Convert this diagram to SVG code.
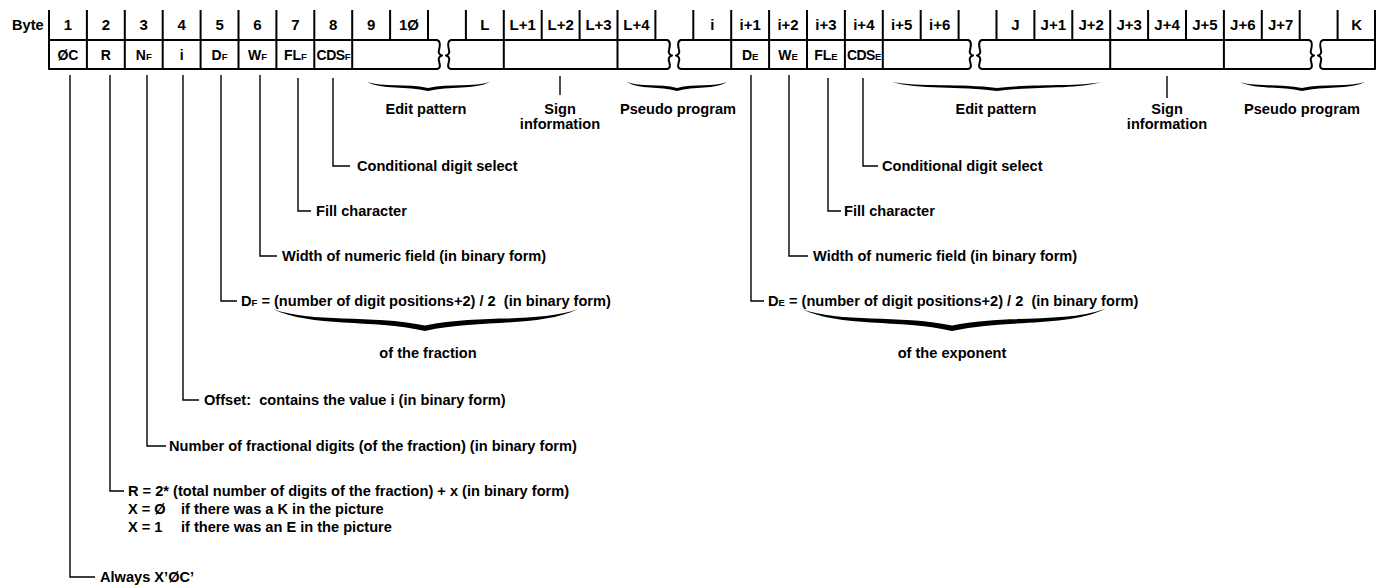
<svg xmlns="http://www.w3.org/2000/svg" width="1383" height="586" viewBox="0 0 1383 586">
  <style>
    .t { font-family: "Liberation Sans", Arial, sans-serif; font-weight: bold; font-size: 14.6px; fill: #000; }
    .h { font-size: 15px; text-anchor: middle; }
    .c { font-size: 14px; text-anchor: middle; }
    .m { text-anchor: middle; }
    .s { font-size: 9.5px; }
    .box { fill: none; stroke: #000; stroke-width: 2; stroke-linejoin: round; }
    .tick { stroke: #000; stroke-width: 2; }
    .ld { fill: none; stroke: #000; stroke-width: 1.4; }
    .brace { fill: #000; }
  </style>
  <rect width="1383" height="586" fill="#fff"/>

  <!-- byte number row -->
  <g id="byte-numbers">
    <text class="t" x="12" y="30" font-size="14">Byte</text>
    <path class="tick" d="M49,10V40M86.9,10V40M124.8,10V40M162.7,10V40M200.6,10V40M238.5,10V40M276.4,10V40M314.3,10V40M352.2,10V40M390.1,10V40M428,10V40M465.9,10V40M503.8,10V40M541.7,10V40M579.6,10V40M617.5,10V40M655.4,10V40M693.3,10V40M731.2,10V40M769.1,10V40M807,10V40M844.9,10V40M882.8,10V40M920.7,10V40M958.6,10V40M996.5,10V40M1034.4,10V40M1072.3,10V40M1110.2,10V40M1148.1,10V40M1186,10V40M1223.9,10V40M1261.8,10V40M1299.7,10V40M1337.6,10V40M1375,10V40"/>
    <text class="t h" x="67.95" y="30">1</text>
    <text class="t h" x="105.85" y="30">2</text>
    <text class="t h" x="143.75" y="30">3</text>
    <text class="t h" x="181.65" y="30">4</text>
    <text class="t h" x="219.55" y="30">5</text>
    <text class="t h" x="257.45" y="30">6</text>
    <text class="t h" x="295.35" y="30">7</text>
    <text class="t h" x="333.25" y="30">8</text>
    <text class="t h" x="371.15" y="30">9</text>
    <text class="t h" x="409.05" y="30">1Ø</text>
    <text class="t h" x="484.85" y="30">L</text>
    <text class="t h" x="522.75" y="30">L+1</text>
    <text class="t h" x="560.65" y="30">L+2</text>
    <text class="t h" x="598.55" y="30">L+3</text>
    <text class="t h" x="636.45" y="30">L+4</text>
    <text class="t h" x="712.25" y="30">i</text>
    <text class="t h" x="750.15" y="30">i+1</text>
    <text class="t h" x="788.05" y="30">i+2</text>
    <text class="t h" x="825.95" y="30">i+3</text>
    <text class="t h" x="863.85" y="30">i+4</text>
    <text class="t h" x="901.75" y="30">i+5</text>
    <text class="t h" x="939.65" y="30">i+6</text>
    <text class="t h" x="1015.45" y="30">J</text>
    <text class="t h" x="1053.35" y="30">J+1</text>
    <text class="t h" x="1091.25" y="30">J+2</text>
    <text class="t h" x="1129.15" y="30">J+3</text>
    <text class="t h" x="1167.05" y="30">J+4</text>
    <text class="t h" x="1204.95" y="30">J+5</text>
    <text class="t h" x="1242.85" y="30">J+6</text>
    <text class="t h" x="1280.75" y="30">J+7</text>
    <text class="t h" x="1356.55" y="30">K</text>
  </g>

  <!-- field row, drawn as torn pieces -->
  <g id="field-row">
    <path class="box" d="M49,40H437C441,41 440,46 439,50C438,53 440,55 442,55.5C440,56 438,58 439,61C440,65 441,68 437,69H49Z"/>
    <path class="box" d="M451,40H667C671,41 670,46 669,50C668,53 670,55 672,55.5C670,56 668,58 669,61C670,65 671,68 667,69H451C447,68 448,65 449,61C450,58 448,56 446,55.5C448,55 450,53 449,50C448,46 447,41 451,40Z"/>
    <path class="box" d="M681,40H968C972,41 971,46 970,50C969,53 971,55 973,55.5C971,56 969,58 970,61C971,65 972,68 968,69H681C677,68 678,65 679,61C680,58 678,56 676,55.5C678,55 680,53 679,50C678,46 677,41 681,40Z"/>
    <path class="box" d="M982,40H1309C1313,41 1312,46 1311,50C1310,53 1312,55 1314,55.5C1312,56 1310,58 1311,61C1312,65 1313,68 1309,69H982C978,68 979,65 980,61C981,58 979,56 977,55.5C979,55 981,53 980,50C979,46 978,41 982,40Z"/>
    <path class="box" d="M1323,40H1375V69H1323C1319,68 1320,65 1321,61C1322,58 1320,56 1318,55.5C1320,55 1322,53 1321,50C1320,46 1319,41 1323,40Z"/>
    <path class="tick" d="M86.9,40V69M124.8,40V69M162.7,40V69M200.6,40V69M238.5,40V69M276.4,40V69M314.3,40V69M352.2,40V69M503.8,40V69M617.5,40V69M731.2,40V69M769.1,40V69M807,40V69M844.9,40V69M882.8,40V69M1110.2,40V69M1223.9,40V69"/>
  </g>

  <g id="cell-0C"><text class="t c" x="67.95" y="60">ØC</text></g>
  <g id="cell-R"><text class="t c" x="105.85" y="60">R</text></g>
  <g id="cell-NF"><text class="t c" x="143.75" y="60">N<tspan class="s">F</tspan></text></g>
  <g id="cell-i"><text class="t c" x="181.65" y="60">i</text></g>
  <g id="cell-DF"><text class="t c" x="219.55" y="60">D<tspan class="s">F</tspan></text></g>
  <g id="cell-WF"><text class="t c" x="257.45" y="60">W<tspan class="s">F</tspan></text></g>
  <g id="cell-FLF"><text class="t c" x="295.35" y="60">FL<tspan class="s">F</tspan></text></g>
  <g id="cell-CDSF"><text class="t c" x="333.25" y="60" letter-spacing="-0.5">CDS<tspan class="s">F</tspan></text></g>
  <g id="cell-DE"><text class="t c" x="750.15" y="60">D<tspan class="s">E</tspan></text></g>
  <g id="cell-WE"><text class="t c" x="788.05" y="60">W<tspan class="s">E</tspan></text></g>
  <g id="cell-FLE"><text class="t c" x="825.95" y="60">FL<tspan class="s">E</tspan></text></g>
  <g id="cell-CDSE"><text class="t c" x="863.85" y="60" letter-spacing="-0.5">CDS<tspan class="s">E</tspan></text></g>

  <!-- braces and labels under the variable-length areas -->
  <g id="edit-pattern-f">
    <path class="brace" d="M367,82C382.25,89.65 406.65,86.05 428,91C449.7,86.05 474.5,89.65 490,82C474.5,87.05 449.7,83.45 428,87.9C406.65,83.45 382.25,87.05 367,82Z"/>
    <text class="t m" x="426" y="114">Edit pattern</text>
  </g>
  <g id="sign-f">
    <text class="t m" x="560" y="114">Sign</text>
    <text class="t m" x="560" y="129">information</text>
  </g>
  <g id="pseudo-program-f">
    <path class="brace" d="M627,82C639.5,89.65 659.5,86.05 677,91C694.5,86.05 714.5,89.65 727,82C714.5,87.05 694.5,83.45 677,87.9C659.5,83.45 639.5,87.05 627,82Z"/>
    <text class="t m" x="678" y="114">Pseudo program</text>
  </g>
  <g id="edit-pattern-e">
    <path class="brace" d="M892,82C918.25,89.65 960.25,86.05 997,91C1033.75,86.05 1075.75,89.65 1102,82C1075.75,87.05 1033.75,83.45 997,87.9C960.25,83.45 918.25,87.05 892,82Z"/>
    <text class="t m" x="996" y="114">Edit pattern</text>
  </g>
  <g id="sign-e">
    <text class="t m" x="1167" y="114">Sign</text>
    <text class="t m" x="1167" y="129">information</text>
  </g>
  <g id="pseudo-program-e">
    <path class="brace" d="M1240,82C1255.5,89.65 1280.3,86.05 1302,91C1324.05,86.05 1349.25,89.65 1365,82C1349.25,87.05 1324.05,83.45 1302,87.9C1280.3,83.45 1255.5,87.05 1240,82Z"/>
    <text class="t m" x="1302" y="114">Pseudo program</text>
  </g>

  <!-- descriptions of the fraction bytes -->
  <g id="desc-cds-f"><text class="t" x="357" y="171">Conditional digit select</text></g>
  <g id="desc-fill-f"><text class="t" x="316" y="216">Fill character</text></g>
  <g id="desc-width-f"><text class="t" x="282" y="261">Width of numeric field (in binary form)</text></g>
  <g id="desc-d-f">
    <text class="t" x="241" y="306" xml:space="preserve">D<tspan class="s">F</tspan> = (number of digit positions+2) / 2  (in binary form)</text>
    <path class="brace" d="M273,309C311,327.7 371.8,318.9 425,331C478.55,318.9 539.75,327.7 578,309C539.75,323.2 478.55,314.4 425,325.6C371.8,314.4 311,323.2 273,309Z"/>
    <text class="t m" x="428" y="358">of the fraction</text>
  </g>
  <g id="desc-offset"><text class="t" x="204" y="405" xml:space="preserve">Offset:  contains the value i (in binary form)</text></g>
  <g id="desc-n-f"><text class="t" x="169" y="451">Number of fractional digits (of the fraction) (in binary form)</text></g>
  <g id="desc-r">
    <text class="t" x="128" y="496">R = 2* (total number of digits of the fraction) + x (in binary form)</text>
    <text class="t" x="128" y="514">X = Ø</text>
    <text class="t" x="181" y="514">if there was a K in the picture</text>
    <text class="t" x="128" y="532">X = 1</text>
    <text class="t" x="181" y="532">if there was an E in the picture</text>
  </g>
  <g id="desc-0c"><text class="t" x="100" y="582">Always X’ØC’</text></g>

  <!-- descriptions of the exponent bytes -->
  <g id="desc-cds-e"><text class="t" x="882" y="171">Conditional digit select</text></g>
  <g id="desc-fill-e"><text class="t" x="844" y="216">Fill character</text></g>
  <g id="desc-width-e"><text class="t" x="813" y="261">Width of numeric field (in binary form)</text></g>
  <g id="desc-d-e">
    <text class="t" x="768" y="306" xml:space="preserve">D<tspan class="s">E</tspan> = (number of digit positions+2) / 2  (in binary form)</text>
    <path class="brace" d="M802,309C839.5,327.7 899.5,318.9 952,331C1005.55,318.9 1066.75,327.7 1105,309C1066.75,323.2 1005.55,314.4 952,325.6C899.5,314.4 839.5,323.2 802,309Z"/>
    <text class="t m" x="952" y="358">of the exponent</text>
  </g>

  <!-- leader lines from the bytes to their descriptions -->
  <g id="connectors">
    <path class="ld" d="M70,75V577H95"/>
    <path class="ld" d="M110,75V491H124"/>
    <path class="ld" d="M147,75V446H166"/>
    <path class="ld" d="M183,75V400H199"/>
    <path class="ld" d="M221,75V301H237"/>
    <path class="ld" d="M260,75V256H277"/>
    <path class="ld" d="M298,78V211H311"/>
    <path class="ld" d="M333,78V166H350"/>
    <path class="ld" d="M560,76V95"/>
    <path class="ld" d="M751,75V301H764"/>
    <path class="ld" d="M789,75V256H808"/>
    <path class="ld" d="M828,78V211H841"/>
    <path class="ld" d="M863,78V166H878"/>
    <path class="ld" d="M1167,76V98"/>
  </g>
</svg>
